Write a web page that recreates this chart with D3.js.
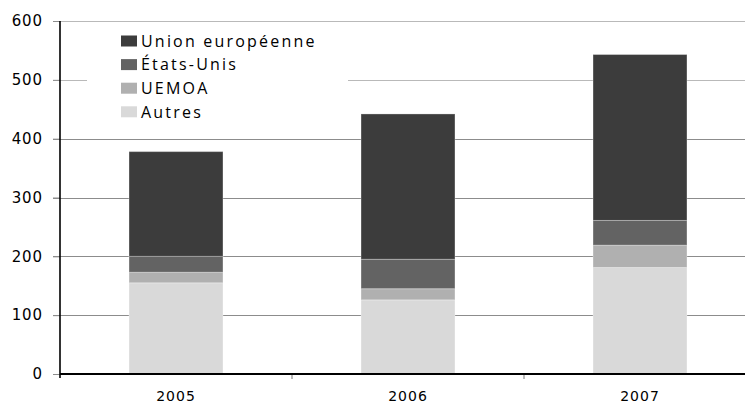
<!DOCTYPE html>
<html>
<head>
<meta charset="utf-8">
<script src="https://cdn.jsdelivr.net/npm/d3@7"></script>
<style>
  html, body { margin: 0; padding: 0; background: #fff; }
  svg { display: block; }
</style>
</head>
<body>
<svg id="chart" width="745" height="403"></svg>
<script>
// Exportations par destination (stacked, bottom to top)
const years = ["2005", "2006", "2007"];
const seriesNames = ["Autres", "UEMOA", "États-Unis", "Union européenne"];
const autres = [155, 126, 181];
const uemoa = [18, 19, 38];
const etatsUnis = [27, 50, 42];
const unionEuropeenne = [178, 247, 282];
const yTicks = [0, 100, 200, 300, 400, 500, 600];
const legendOrder = ["Union européenne", "États-Unis", "UEMOA", "Autres"];

const colors = {
  "Autres": "#d9d9d9",
  "UEMOA": "#b0b0b0",
  "États-Unis": "#636363",
  "Union européenne": "#3c3c3c"
};

const rows = years.map((yr, i) => ({
  year: yr,
  "Autres": autres[i],
  "UEMOA": uemoa[i],
  "États-Unis": etatsUnis[i],
  "Union européenne": unionEuropeenne[i]
}));

const svg = d3.select("#chart");
const W = 745;
const plotLeft = 60, plotBottom = 374, plotTop = 21;

const x = d3.scaleBand()
  .domain(years)
  .range([plotLeft, 756])
  .paddingInner(0.595)
  .paddingOuter(0.2975);

const y = d3.scaleLinear().domain([0, 600]).range([plotBottom, plotTop]);

// Gridlines with outward tick stubs
svg.append("g")
  .selectAll("line")
  .data(yTicks.filter(d => d > 0))
  .join("line")
  .attr("x1", plotLeft - 7)
  .attr("x2", W)
  .attr("y1", d => Math.round(y(d)) + 0.5)
  .attr("y2", d => Math.round(y(d)) + 0.5)
  .attr("stroke", d => d >= 500 ? "#b9b9b9" : "#8c8c8c")
  .attr("stroke-width", 1.2);

// Stacked bars
const stack = d3.stack().keys(seriesNames);
const layers = stack(rows);

svg.append("g")
  .selectAll("g")
  .data(layers)
  .join("g")
  .attr("fill", d => colors[d.key])
  .selectAll("rect")
  .data(d => d)
  .join("rect")
  .attr("x", d => x(d.data.year))
  .attr("width", x.bandwidth())
  .attr("y", d => y(d[1]))
  .attr("height", d => y(d[0]) - y(d[1]))
  .attr("stroke", "#ffffff")
  .attr("stroke-opacity", 0.3)
  .attr("stroke-width", 1);

// Y axis
const yAxis = d3.axisLeft(y).tickValues(yTicks).tickSize(7).tickPadding(10);
const gy = svg.append("g").attr("transform", `translate(${plotLeft},0)`).call(yAxis);
gy.select(".domain").remove();
gy.selectAll(".tick line").attr("stroke", "#8c8c8c");
gy.selectAll(".tick text")
  .attr("font-family", "DejaVu Sans, Verdana, sans-serif")
  .attr("font-size", 15)
  .attr("letter-spacing", "0.9px")
  .attr("fill", "#000");

svg.append("line")
  .attr("x1", plotLeft).attr("x2", plotLeft)
  .attr("y1", plotTop).attr("y2", plotBottom + 4)
  .attr("stroke", "#000").attr("stroke-width", 1.6);

// X axis
const xAxis = d3.axisBottom(x).tickSize(0).tickPadding(17);
const gx = svg.append("g").attr("transform", `translate(0,${plotBottom})`).call(xAxis);
gx.select(".domain").remove();
gx.selectAll(".tick text")
  .attr("font-family", "DejaVu Sans, Verdana, sans-serif")
  .attr("font-size", 14)
  .attr("letter-spacing", "1px")
  .attr("fill", "#000");

// category separators below the baseline
svg.append("g")
  .selectAll("line")
  .data(years.slice(1))
  .join("line")
  .attr("x1", d => x(d) - x.step() * x.paddingInner() / 2)
  .attr("x2", d => x(d) - x.step() * x.paddingInner() / 2)
  .attr("y1", plotBottom)
  .attr("y2", plotBottom + 5)
  .attr("stroke", "#777");

svg.append("line")
  .attr("x1", plotLeft).attr("x2", W)
  .attr("y1", plotBottom).attr("y2", plotBottom)
  .attr("stroke", "#000").attr("stroke-width", 2);

// Legend
const legend = svg.append("g");
legend.append("rect")
  .attr("x", 87).attr("y", 27)
  .attr("width", 261).attr("height", 98)
  .attr("fill", "#fff");

const items = legend.selectAll("g.item")
  .data(legendOrder)
  .join("g")
  .attr("class", "item")
  .attr("transform", (d, i) => `translate(121,${41 + i * 23.6})`);

items.append("rect")
  .attr("x", 0).attr("y", -5.5)
  .attr("width", 16).attr("height", 11)
  .attr("fill", d => colors[d]);

items.append("text")
  .attr("x", 20)
  .attr("dy", "0.36em")
  .attr("font-family", "Open Sans, sans-serif")
  .attr("font-size", 16)
  .attr("font-weight", 500)
  .attr("letter-spacing", "2.2px")
  .attr("fill", "#000")
  .text(d => d);
</script>
</body>
</html>
